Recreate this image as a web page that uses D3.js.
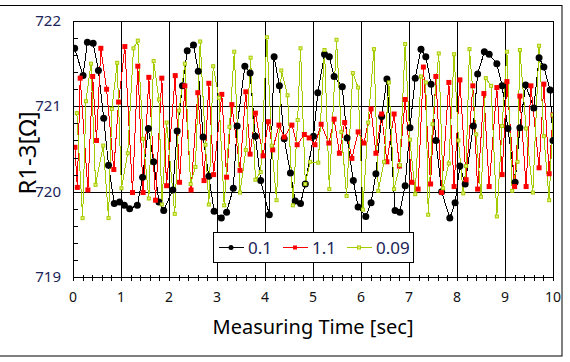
<!DOCTYPE html>
<html><head><meta charset="utf-8">
<script src="https://cdn.jsdelivr.net/npm/d3@7"></script>
<style>
html,body{margin:0;padding:0;background:#fff;}
svg{display:block;font-family:"Noto Sans","DejaVu Sans",sans-serif;}
</style></head>
<body><div id="chart"></div>
<script>
const seriesNames = ["0.1", "1.1", "0.09"];
const xTicks = [0,1,2,3,4,5,6,7,8,9,10];
const yTicks = [719,720,721,722];

const blackT = [0.035,0.21,0.30,0.42,0.53,0.64,0.74,0.86,0.97,1.07,1.18,1.34,1.45,1.57,1.68,1.79,1.89,2.08,2.17,2.28,2.38,2.51,2.61,2.71,2.83,2.94,3.09,3.20,3.34,3.42,3.58,3.69,3.80,3.91,4.09,4.19,4.30,4.40,4.53,4.63,4.74,4.84,5.01,5.10,5.24,5.34,5.44,5.61,5.71,5.84,5.94,6.10,6.21,6.31,6.43,6.54,6.71,6.81,6.92,7.02,7.13,7.25,7.35,7.46,7.56,7.68,7.85,7.96,8.06,8.17,8.34,8.43,8.57,8.67,8.83,8.94,9.06,9.21,9.31,9.43,9.60,9.71,9.81,9.94,10.0];
const blackV = [721.68,721.36,721.75,721.74,721.42,720.86,720.31,719.86,719.88,719.84,719.80,719.84,720.17,720.74,720.35,719.88,719.78,720.02,720.71,721.24,721.65,721.72,721.41,720.64,720.18,719.77,719.69,719.76,720.04,720.77,721.47,721.39,720.65,720.13,719.73,721.58,721.24,720.62,720.22,719.89,719.86,720.09,720.65,721.16,721.61,721.58,721.35,721.23,720.63,720.13,719.82,719.71,719.87,720.21,720.88,721.32,719.78,719.76,720.07,720.75,721.33,721.67,721.58,721.26,720.60,720.00,719.69,719.87,720.30,720.09,720.77,721.38,721.64,721.61,721.50,721.24,720.74,720.11,720.75,721.25,720.98,721.57,721.46,721.19,720.60];

const redT = [0.04,0.09,0.15,0.31,0.41,0.49,0.58,0.70,0.85,0.95,1.08,1.24,1.35,1.46,1.58,1.72,1.85,1.95,2.13,2.22,2.33,2.46,2.60,2.73,2.83,2.93,3.10,3.20,3.31,3.48,3.60,3.69,3.80,3.96,4.07,4.16,4.29,4.40,4.56,4.67,4.82,4.92,5.04,5.17,5.33,5.44,5.55,5.66,5.81,5.94,6.06,6.21,6.31,6.43,6.54,6.69,6.80,6.92,7.06,7.19,7.30,7.45,7.56,7.68,7.83,7.94,8.06,8.19,8.33,8.43,8.56,8.67,8.83,8.94,9.04,9.20,9.31,9.44,9.54,9.71,9.81,9.92,10.0];
const redV = [720.52,720.05,721.33,720.02,721.35,720.60,721.68,721.20,720.26,721.05,721.70,719.99,721.47,719.99,721.34,719.90,721.33,720.07,721.36,720.11,721.24,720.02,721.16,720.13,721.27,720.20,721.14,720.17,721.02,720.25,721.17,720.44,720.92,720.42,720.82,720.49,720.78,720.64,720.78,720.55,720.67,720.63,720.55,720.79,720.57,720.85,720.45,720.81,720.39,720.70,720.57,720.97,720.45,720.91,720.35,720.91,720.30,721.08,720.11,720.03,721.46,720.09,721.35,719.99,721.28,720.06,721.31,720.14,721.24,720.03,721.15,720.06,721.22,720.20,721.29,720.06,721.12,720.06,721.24,720.28,721.26,720.21,720.90];

const greenT = [0.08,0.20,0.27,0.375,0.47,0.63,0.74,0.81,0.92,1.01,1.14,1.26,1.35,1.46,1.58,1.68,1.79,1.85,1.95,2.12,2.21,2.33,2.45,2.55,2.65,2.76,2.83,2.92,3.04,3.15,3.26,3.36,3.48,3.60,3.70,3.80,3.91,4.04,4.14,4.24,4.34,4.47,4.58,4.68,4.74,4.84,4.94,5.11,5.24,5.34,5.49,5.59,5.70,5.83,5.94,6.04,6.15,6.27,6.36,6.48,6.58,6.69,6.81,6.92,7.02,7.13,7.25,7.35,7.40,7.49,7.62,7.71,7.83,7.94,8.03,8.13,8.19,8.26,8.40,8.50,8.60,8.71,8.83,8.94,9.04,9.15,9.26,9.31,9.44,9.58,9.71,9.81,9.92,10.0];
const greenV = [720.92,719.69,721.06,721.50,720.08,720.54,719.69,720.97,721.51,720.04,720.45,721.68,721.77,720.62,719.92,721.53,721.08,719.85,720.81,719.74,720.95,721.50,720.09,720.29,721.76,720.55,719.85,721.47,721.10,719.84,720.76,721.64,719.99,720.49,721.57,720.14,720.23,721.81,720.54,719.90,721.42,721.13,719.84,720.84,721.68,720.09,720.35,720.34,721.66,720.03,721.78,720.70,719.95,721.39,721.22,719.79,720.81,721.67,720.01,720.35,721.28,720.03,720.31,721.73,720.61,719.97,721.35,721.28,719.73,720.79,721.62,720.04,720.33,721.61,720.60,719.98,720.30,721.67,720.67,719.94,721.33,721.24,719.71,720.77,721.64,720.01,720.35,721.66,720.74,719.99,721.71,720.65,719.90,720.90];

const W = 570, H = 362;
const M = {left:73, right:553, top:21, bottom:277};
const svg = d3.select("#chart").append("svg").attr("width",W).attr("height",H);

svg.append("rect").attr("x",-1).attr("y",5.5).attr("width",563).attr("height",350.5)
  .attr("fill","#fff").attr("stroke","#000").attr("stroke-width",1);

const x = d3.scaleLinear().domain([0,10]).range([M.left,M.right]);
const y = d3.scaleLinear().domain([719,722]).range([M.bottom,M.top]);

svg.append("rect").attr("x",M.left).attr("y",M.top).attr("width",M.right-M.left).attr("height",M.bottom-M.top).attr("fill","#fff");

// grid
const grid = svg.append("g").attr("shape-rendering","crispEdges");
grid.selectAll("line.v").data(xTicks.slice(1,-1)).join("line")
  .attr("x1",d=>Math.round(x(d))+0.5).attr("x2",d=>Math.round(x(d))+0.5)
  .attr("y1",M.top).attr("y2",M.bottom).attr("stroke","#000");
grid.selectAll("line.h").data(yTicks.slice(1,-1)).join("line")
  .attr("y1",d=>Math.round(y(d))+0.5).attr("y2",d=>Math.round(y(d))+0.5)
  .attr("x1",M.left).attr("x2",M.right).attr("stroke","#000");

svg.append("clipPath").attr("id","clip").append("rect")
  .attr("x",M.left).attr("y",M.top-6).attr("width",M.right-M.left).attr("height",M.bottom-M.top+12);

const series = [
  {t:blackT, v:blackV, color:"#000", marker:"circle"},
  {t:redT, v:redV, color:"#ff0000", marker:"square"},
  {t:greenT, v:greenV, color:"#a2cc00", marker:"small"}
];
const line = d3.line().x(d=>x(d[0])).y(d=>y(d[1]));
const dataG = svg.append("g").attr("clip-path","url(#clip)");
series.forEach(s=>{
  const pts = s.t.map((t,i)=>[t,s.v[i]]);
  dataG.append("path").datum(pts).attr("d",line).attr("fill","none")
    .attr("stroke",s.color).attr("stroke-width",1).attr("shape-rendering","crispEdges");
});
series.forEach(s=>{
  const pts = s.t.map((t,i)=>[t,s.v[i]]);
  const g = dataG.append("g");
  if(s.marker==="circle"){
    g.selectAll("circle").data(pts).join("circle").attr("cx",d=>x(d[0])).attr("cy",d=>y(d[1])).attr("r",3.5).attr("fill","#000");
  } else if(s.marker==="square"){
    g.selectAll("rect").data(pts).join("rect").attr("x",d=>x(d[0])-2.5).attr("y",d=>y(d[1])-2.5).attr("width",5).attr("height",5).attr("fill","#ff0000");
  } else {
    g.selectAll("rect").data(pts).join("rect").attr("x",d=>x(d[0])-1.5).attr("y",d=>y(d[1])-1.5).attr("width",3).attr("height",3)
      .attr("fill","#eef27a").attr("stroke","#a2cc00").attr("stroke-width",1);
  }
});

svg.append("rect").attr("x",M.left+0.5).attr("y",M.top+0.5).attr("width",M.right-M.left).attr("height",M.bottom-M.top)
  .attr("fill","none").attr("stroke","#000").attr("stroke-width",1).attr("shape-rendering","crispEdges");

const xAxis = d3.axisBottom(x).tickValues(d3.range(0,10.001,0.2)).tickSize(0).tickFormat("");
const ax = svg.append("g").attr("transform",`translate(0,${M.bottom+0.5})`).call(xAxis);
ax.select(".domain").remove();
ax.selectAll(".tick line").attr("y1",-3).attr("y2",3).attr("stroke","#000").attr("shape-rendering","crispEdges");
svg.append("g").selectAll("text").data(xTicks).join("text")
  .attr("x",d=>x(d)).attr("y",302).attr("text-anchor","middle")
  .attr("font-size",14).attr("fill","#111").text(d=>d);

const yAxis = d3.axisLeft(y).tickValues(d3.range(719,722.001,0.2)).tickSize(0).tickFormat("");
const ay = svg.append("g").attr("transform",`translate(${M.left+0.5},0)`).call(yAxis);
ay.select(".domain").remove();
ay.selectAll(".tick line").attr("x1",0).attr("x2",4).attr("stroke","#000").attr("shape-rendering","crispEdges");
svg.append("g").selectAll("text").data(yTicks).join("text")
  .attr("x",61).attr("y",d=>y(d)+5).attr("text-anchor","end")
  .attr("font-size",15).attr("fill","#1a2458").text(d=>d);

svg.append("text").attr("x",313).attr("y",334).attr("text-anchor","middle")
  .attr("font-size",20).attr("fill","#000").text("Measuring Time [sec]");
svg.append("text").attr("transform","translate(36,153) rotate(-90)").attr("text-anchor","middle")
  .attr("font-size",24).attr("fill","#000").text("R1-3[Ω]");

const lg = svg.append("g");
lg.append("rect").attr("x",213.5).attr("y",232.5).attr("width",200).attr("height",30)
  .attr("fill","#fff").attr("stroke","#000").attr("stroke-width",1).attr("shape-rendering","crispEdges");
const lx = [219,283,347];
seriesNames.forEach((n,i)=>{
  const s = series[i];
  const cy = 247.5;
  lg.append("line").attr("x1",lx[i]).attr("x2",lx[i]+25).attr("y1",cy).attr("y2",cy).attr("stroke",s.color).attr("shape-rendering","crispEdges");
  const mx = lx[i]+12;
  if(s.marker==="circle") lg.append("circle").attr("cx",mx).attr("cy",cy).attr("r",2.5).attr("fill","#000");
  else if(s.marker==="square") lg.append("rect").attr("x",mx-2).attr("y",cy-2).attr("width",4).attr("height",4).attr("fill","#ff0000");
  else lg.append("rect").attr("x",mx-1.5).attr("y",cy-1.5).attr("width",3).attr("height",3).attr("fill","#eef27a").attr("stroke","#a2cc00");
  lg.append("text").attr("x",lx[i]+29).attr("y",cy+6).attr("font-size",17).attr("fill","#1a2458").text(n);
});
</script>
</body></html>
